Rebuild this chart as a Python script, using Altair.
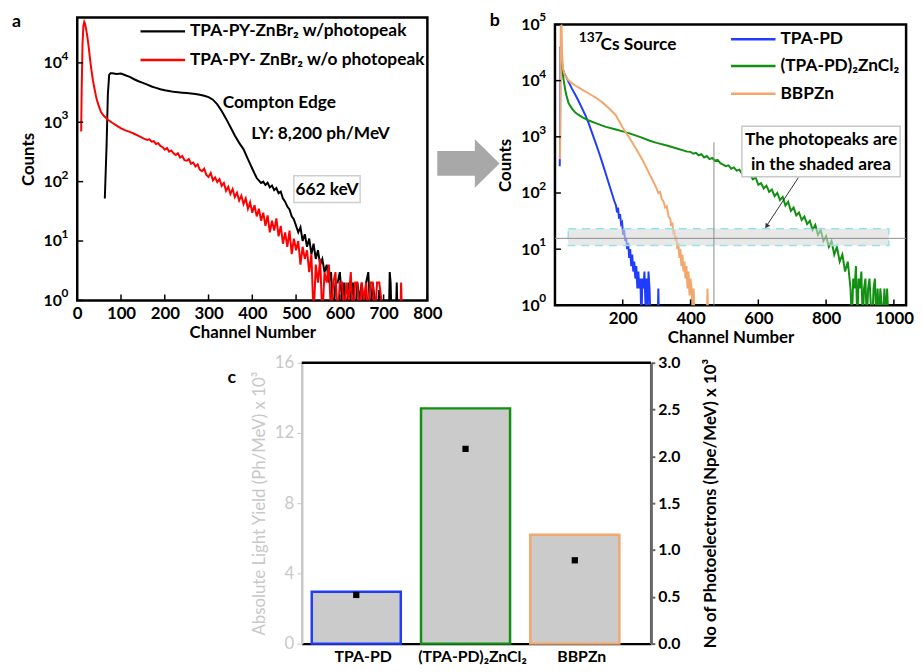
import altair as alt
import pandas as pd

FONT = "Lato"
TS = 17.5  # annotation text size

# ---------------- data ----------------
a_names = ["TPA-PY-ZnBr₂ w/photopeak", "TPA-PY- ZnBr₂ w/o photopeak"]
a_black = [(63, 52), (67, 400), (70, 3000), (73, 6300), (76, 6700), (80, 6700), (90, 6500), (100, 6600),
           (110, 6200), (120, 5800), (130, 5300), (140, 4900), (150, 4600), (160, 4300), (170, 4000),
           (180, 3800), (190, 3600), (200, 3450), (210, 3350), (220, 3250), (230, 3200), (240, 3150),
           (250, 3100), (260, 3050), (270, 3000), (280, 2900), (290, 2800), (300, 2650), (310, 2400),
           (320, 2000), (330, 1550), (340, 1150), (350, 830), (360, 600), (370, 450), (380, 350),
           (390, 240), (400, 165), (410, 115), (420, 95), (425, 100), (430, 88), (435, 96), (440, 80),
           (445, 86), (450, 72), (455, 78), (460, 64), (465, 68), (470, 52), (475, 46), (480, 38),
           (485, 34), (490, 26), (495, 23), (500, 18), (505, 14), (510, 17), (515, 10), (520, 13),
           (525, 8), (530, 11), (535, 6), (540, 9), (545, 5), (550, 7), (555, 4), (560, 5), (565, 3),
           (570, 4), (575, 2), (580, 3), (585, 0.5), (590, 2), (595, 2), (600, 3), (605, 1), (610, 2),
           (615, 0.5), (620, 2), (625, 1), (630, 2), (635, 0.5), (640, 2), (645, 1), (650, 2),
           (655, 0.5), (660, 2), (665, 3), (670, 0.5), (675, 2), (680, 1), (685, 0.5), (690, 1.5),
           (695, 0.5), (712, 0.5), (714, 3), (716, 2), (718, 0.5), (728, 0.5), (730, 2), (732, 0.5)]
a_red = [(9, 700), (10, 3000), (12, 20000), (14, 42000), (16, 49000), (18, 45000), (20, 38000),
         (23, 28000), (26, 19000), (29, 12000), (32, 8000), (36, 5000), (40, 3500), (44, 2500),
         (48, 2000), (54, 1500), (60, 1300), (70, 1100), (80, 980), (90, 880), (100, 790), (110, 730),
         (120, 690), (130, 640), (140, 590), (150, 540), (155, 520), (160, 505), (165, 515), (170, 470),
         (175, 480), (180, 430), (185, 445), (190, 400), (195, 380), (200, 345), (205, 370), (210, 320),
         (215, 335), (220, 300), (225, 280), (230, 300), (235, 255), (240, 270), (245, 230), (250, 225),
         (255, 240), (260, 200), (265, 210), (270, 180), (275, 195), (280, 160), (285, 150), (290, 165),
         (295, 130), (300, 120), (305, 140), (310, 105), (315, 118), (320, 98), (325, 110), (330, 85),
         (335, 95), (340, 70), (345, 82), (350, 62), (355, 75), (360, 55), (365, 65), (370, 48),
         (375, 58), (380, 42), (385, 52), (390, 35), (395, 45), (400, 30), (405, 40), (410, 26),
         (415, 35), (420, 22), (425, 30), (430, 18), (435, 27), (440, 14), (445, 22), (450, 15),
         (455, 24), (460, 12), (465, 18), (470, 9), (475, 14), (480, 8), (485, 15), (490, 6), (495, 11),
         (500, 7), (505, 10), (510, 4), (515, 8), (520, 5), (525, 7), (530, 3), (535, 6), (540, 0.5),
         (545, 4), (550, 2), (555, 5), (560, 0.5), (565, 3), (570, 2), (575, 4), (580, 0.5), (585, 2),
         (590, 3), (595, 0.5), (600, 2), (605, 2), (610, 0.5), (615, 2), (620, 1), (625, 3), (630, 0.5),
         (635, 2), (640, 2), (645, 0.5), (650, 2), (655, 1), (660, 2), (665, 0.5), (670, 2), (675, 2),
         (680, 0.5), (685, 2), (690, 2), (695, 1), (700, 0.5), (738, 0.5), (740, 2), (742, 0.5)]
a_xticks = [0, 100, 200, 300, 400, 500, 600, 700, 800]
a_yticks = [1, 10, 100, 1000, 10000]
a_exps = ["0", "1", "2", "3", "4"]

b_names = ["TPA-PD", "(TPA-PD)₂ZnCl₂", "BBPZn"]
b_blue = [(14, 300), (15, 650), (16, 40000), (18, 30000), (20, 22000), (23, 16000), (27, 13500),
          (32, 12000), (40, 9500), (50, 7200), (60, 5600), (70, 4300), (80, 3200), (90, 2400),
          (100, 1700), (110, 1150), (120, 780), (130, 520), (140, 340), (150, 220), (160, 140),
          (170, 90), (175, 72), (180, 60), (183, 45), (186, 55), (189, 35), (192, 42), (195, 28),
          (198, 30), (201, 18), (204, 22), (207, 14), (210, 16), (213, 10), (216, 13), (219, 7),
          (222, 10), (225, 5), (228, 8), (231, 4), (234, 6), (237, 3), (240, 5), (243, 2), (246, 4),
          (249, 2), (252, 3), (255, 0.5), (258, 3), (261, 2), (264, 4), (267, 1), (270, 3), (273, 0.5),
          (276, 4), (279, 2), (282, 0.5), (290, 0.5), (303, 0.5), (305, 2), (307, 0.5)]
b_green = [(16, 40000), (18, 35000), (20, 20000), (23, 13000), (27, 9000), (32, 6000), (40, 4000),
           (50, 3200), (60, 2700), (70, 2450), (80, 2250), (100, 1950), (120, 1750), (150, 1500),
           (180, 1350), (200, 1250), (220, 1150), (250, 1000), (280, 850), (300, 780), (330, 700),
           (360, 620), (390, 545), (400, 540), (408, 500), (416, 520), (424, 470), (432, 490), (440, 430),
           (448, 455), (456, 400), (464, 420), (472, 375), (480, 390), (488, 340), (496, 320), (504, 300),
           (512, 310), (520, 270), (528, 285), (536, 250), (544, 260), (552, 220), (560, 235), (568, 200),
           (576, 210), (584, 175), (592, 190), (600, 140), (608, 150), (616, 120), (624, 135), (632, 105),
           (640, 115), (648, 88), (656, 100), (664, 75), (672, 85), (680, 60), (688, 70), (696, 48),
           (704, 55), (712, 40), (720, 45), (728, 33), (736, 38), (744, 28), (752, 32), (760, 22),
           (768, 27), (776, 18), (784, 22), (792, 14), (800, 17), (808, 11), (816, 14), (824, 8),
           (832, 11), (840, 6), (848, 8), (856, 4), (864, 6), (872, 2), (876, 0.5), (880, 3), (884, 2),
           (888, 5), (892, 0.5), (896, 3), (900, 2), (904, 4), (908, 0.5), (912, 2), (916, 3), (920, 0.5),
           (924, 2), (928, 3), (932, 1), (936, 0.5), (940, 2), (944, 3), (948, 0.5), (952, 2), (956, 0.5),
           (960, 2), (964, 1), (968, 0.5), (972, 2), (976, 0.5), (980, 2), (984, 0.5)]
b_orange = [(15, 400), (16, 3000), (17, 200000), (19, 120000), (21, 30000), (24, 16000), (28, 13000),
            (35, 11000), (45, 9500), (60, 8200), (80, 6900), (100, 5900), (120, 5000), (140, 4100),
            (160, 3200), (180, 2400), (200, 1450), (220, 950), (240, 600), (260, 370), (280, 210),
            (290, 160), (300, 120), (305, 100), (310, 105), (315, 78), (320, 72), (325, 55), (330, 58),
            (335, 38), (340, 35), (343, 26), (346, 30), (349, 20), (352, 22), (355, 14), (358, 17),
            (361, 10), (364, 13), (367, 7), (370, 10), (373, 5), (376, 8), (379, 4), (382, 6), (385, 3),
            (388, 5), (391, 2), (394, 4), (397, 1.5), (400, 3), (403, 2), (406, 0.5), (409, 2), (412, 0.5),
            (448, 0.5), (450, 2), (452, 0.5)]
b_xticks = [200, 400, 600, 800, 1000]
b_yticks = [1, 10, 100, 1000, 10000, 100000]
b_exps = ["0", "1", "2", "3", "4", "5"]
b_band = {"ch": [39], "ch2": [985], "counts": [11.6], "counts2": [23]}
b_hline = {"counts": [15.6]}
b_vline = {"ch": [469], "counts": [1], "counts2": [800]}

c_cats = ["TPA-PD", "(TPA-PD)₂ZnCl₂", "BBPZn"]
c_ly = [2.95, 13.4, 6.2]
c_npe = [0.52, 2.08, 0.89]
c_colors = ["#1f3cff", "#119011", "#f2a76c"]
c_left_ticks = [0, 4, 8, 12, 16]
c_right_ticks = [0, 0.5, 1.0, 1.5, 2.0, 2.5, 3.0]

# ---------------- helpers ----------------
one = pd.DataFrame({"k": [0]})


def spec_df(pairs):
    return pd.DataFrame(pairs, columns=["ch", "counts"])


def txt(s, x, y, size=TS, bold=True, align="left", color="black"):
    return alt.Chart(one).mark_text(
        text=s, align=align, baseline="middle", fontSize=size, font=FONT,
        fontWeight="bold" if bold else "normal", color=color
    ).encode(x=alt.value(x), y=alt.value(y))


def hrule(x, x2, y, color, width):
    return alt.Chart(one).mark_rule(color=color, strokeWidth=width).encode(
        x=alt.value(x), x2=alt.value(x2), y=alt.value(y))


def box(x, x2, y, y2, stroke, width=1.5):
    return alt.Chart(one).mark_rect(fill="white", stroke=stroke, strokeWidth=width).encode(
        x=alt.value(x), x2=alt.value(x2), y=alt.value(y), y2=alt.value(y2))


def spacer():
    return alt.Chart(one).mark_point(opacity=0).encode(
        x=alt.value(0), y=alt.value(0)).properties(width=1, height=1, view=alt.ViewBackground(stroke=None))


def spectrum_panel(series, xdom, ydom, xticks, yticks, exps, W, H):
    sx = alt.Scale(domain=xdom, nice=False, zero=False)
    sy = alt.Scale(type="log", domain=ydom, nice=False)
    x_axis = alt.Axis(values=xticks, format="d", title="Channel Number", labelFontSize=17,
                      labelFontWeight="bold", labelColor="black", labelPadding=5, ticks=False,
                      tickSize=0, domain=False, labelFlush=False, labelOverlap=False, titleFontSize=17,
                      titleFontWeight="bold", titleColor="black", titlePadding=4)
    y_axis = alt.Axis(values=yticks, labelExpr="'10'", title="Counts", labelFontSize=16,
                      labelFontWeight="bold", labelColor="black", labelPadding=16, ticks=False,
                      tickSize=0, domain=False, labelOverlap=False, titleFontSize=17,
                      titleFontWeight="bold", titleColor="black", titlePadding=6)
    layers = []
    for i, (pairs, color) in enumerate(series):
        if i == 0:
            enc_x = alt.X("ch:Q", scale=sx, axis=x_axis)
            enc_y = alt.Y("counts:Q", scale=sy, axis=y_axis)
        else:
            enc_x = alt.X("ch:Q", scale=sx)
            enc_y = alt.Y("counts:Q", scale=sy)
        layers.append(alt.Chart(spec_df(pairs)).mark_line(color=color, strokeWidth=2, clip=True)
                      .encode(x=enc_x, y=enc_y))
    # inward ticks
    layers.append(alt.Chart(pd.DataFrame({"ch": xticks})).mark_rule(color="black", strokeWidth=1.5)
                  .encode(x=alt.X("ch:Q", scale=sx), y=alt.value(H), y2=alt.value(H - 6)))
    layers.append(alt.Chart(pd.DataFrame({"counts": yticks})).mark_rule(color="black", strokeWidth=1.5)
                  .encode(y=alt.Y("counts:Q", scale=sy), x=alt.value(0), x2=alt.value(6)))
    # exponents of the 10^n labels
    layers.append(alt.Chart(pd.DataFrame({"counts": yticks, "e": exps})).mark_text(
        align="left", baseline="middle", fontSize=12, fontWeight="bold", font=FONT, dy=-7, color="black")
        .encode(y=alt.Y("counts:Q", scale=sy), x=alt.value(-16), text="e:N"))
    return layers, sx, sy


# ---------------- panel a ----------------
Wa, Ha = 354, 286
la, sxa, sya = spectrum_panel([(a_black, "black"), (a_red, "#ff0000")], [0, 800], [1, 58000],
                              a_xticks, a_yticks, a_exps, Wa, Ha)
arrow_path = "M-1,-0.397L0.206,-0.397L0.206,-0.778L1,0L0.206,0.778L0.206,0.397L-1,0.397Z"
la += [
    hrule(64, 109, 14, "black", 2.5), txt(a_names[0], 114, 14),
    hrule(64, 109, 43, "#ff0000", 2.5), txt(a_names[1], 114, 43),
    txt("Compton Edge", 147, 86),
    txt("LY: 8,200 ph/MeV", 176, 118),
    box(219, 286, 160, 187, "#cfcfcf"),
    txt("662 keV", 252.5, 174, align="center"),
    txt("a", -66, 5, size=18),
    alt.Chart(one).mark_point(shape=arrow_path, size=3969, filled=True, fill="#a8a8a8", opacity=1,
                              strokeOpacity=0).encode(x=alt.value(395.5), y=alt.value(147.5)),
]
panel_a = alt.layer(*la).properties(width=Wa, height=Ha,
                                    view=alt.ViewBackground(stroke="black", strokeWidth=2.5))

# ---------------- panel b ----------------
Wb, Hb = 355, 284
lb, sxb, syb = spectrum_panel([(b_blue, "#1f3cff"), (b_green, "#119011"), (b_orange, "#f2a76c")],
                              [0, 1036], [1, 100000], b_xticks, b_yticks, b_exps, Wb, Hb)
lb += [
    alt.Chart(pd.DataFrame(b_band)).mark_rect(fill="#d9d9d9", fillOpacity=0.6, stroke="#93e4ea",
                                              strokeWidth=1.5, strokeDash=[8, 6]).encode(
        x=alt.X("ch:Q", scale=sxb), x2="ch2:Q",
        y=alt.Y("counts:Q", scale=syb), y2="counts2:Q"),
    alt.Chart(pd.DataFrame(b_hline)).mark_rule(color="#8c8c8c", strokeWidth=1).encode(
        y=alt.Y("counts:Q", scale=syb), x=alt.value(0), x2=alt.value(Wb)),
    alt.Chart(pd.DataFrame(b_vline)).mark_rule(color="#8c8c8c", strokeWidth=1).encode(
        x=alt.X("ch:Q", scale=sxb), y=alt.Y("counts:Q", scale=syb), y2="counts2:Q"),
    box(189, 349, 103, 154, "#c8c8c8"),
    txt("The photopeaks are", 269, 117, align="center"),
    txt("in the shaded area", 269, 142, align="center"),
    alt.Chart(one).mark_rule(color="#333333", strokeWidth=1).encode(
        x=alt.value(246), y=alt.value(155), x2=alt.value(213), y2=alt.value(205)),
    alt.Chart(one).mark_point(shape="triangle-up", size=30, filled=True, color="#333333", opacity=1,
                              angle=213).encode(x=alt.value(214), y=alt.value(204)),
    hrule(178, 223, 15, "#1f3cff", 2.5), txt(b_names[0], 228, 15),
    hrule(178, 223, 42, "#119011", 2.5), txt(b_names[1], 228, 42),
    hrule(178, 223, 70, "#f2a76c", 2.5), txt(b_names[2], 228, 70),
    txt("137", 24, 14, size=14),
    txt("Cs Source", 46, 21),
    txt("b", -66, -3, size=18),
]
panel_b = alt.layer(*lb).properties(width=Wb, height=Hb,
                                    view=alt.ViewBackground(stroke="black", strokeWidth=2.5))

# ---------------- panel c ----------------
Wc, Hc = 353, 284
dfc = pd.DataFrame({"cat": c_cats, "ly": c_ly, "npe": c_npe})
sxc = alt.Scale(domain=c_cats, paddingInner=0.185, paddingOuter=0.19, align=0.24)
xc = alt.X("cat:N", sort=c_cats, scale=sxc,
           axis=alt.Axis(title=None, labelAngle=0, labelFontSize=16, labelFontWeight="bold",
                         labelColor="black", labelPadding=5, labelOffset=7, ticks=False, tickSize=0,
                         domainColor="black", domainWidth=2.5))
bars = alt.Chart(dfc).mark_bar(fill="#cbcbcb", strokeWidth=2.5).encode(
    x=xc,
    y=alt.Y("ly:Q", scale=alt.Scale(domain=[0, 16], nice=False),
            axis=alt.Axis(values=c_left_ticks, orient="left",
                          title="Absolute Light Yield (Ph/MeV) x 10³", labelFontSize=17,
                          labelColor="#c8c8c8", labelPadding=3, tickColor="#c8c8c8", tickSize=5,
                          domainColor="#c8c8c8", domainWidth=2.5, titleColor="#c8c8c8",
                          titleFontSize=17, titleFontWeight="normal", titlePadding=6)),
    stroke=alt.Stroke("cat:N", scale=alt.Scale(domain=c_cats, range=c_colors), legend=None),
)
pts = alt.Chart(dfc).mark_square(size=40, color="black", opacity=1).encode(
    x=alt.X("cat:N", sort=c_cats, scale=sxc),
    y=alt.Y("npe:Q", scale=alt.Scale(domain=[0, 3], nice=False),
            axis=alt.Axis(values=c_right_ticks, orient="right", format=".1f",
                          title="No of  Photoelectrons (Npe/MeV) x 10³", labelFontSize=16,
                          labelFontWeight="bold", labelColor="black", labelPadding=3,
                          tickColor="#666666", tickSize=4, tickWidth=2, domainColor="#666666",
                          domainWidth=3, titleColor="black", titleFontSize=17, titleFontWeight="bold",
                          titleAngle=270, titlePadding=40)),
)
panel_c = alt.layer(
    bars, pts, hrule(0, Wc, 0, "black", 2.5), txt("c", -75, 16, size=18)
).resolve_scale(y="independent").properties(width=Wc, height=Hc, view=alt.ViewBackground(stroke=None))

# ---------------- layout ----------------
col_b = alt.vconcat(spacer(), panel_b, spacing=6, bounds="flush")
row1 = alt.hconcat(panel_a, col_b, spacing=129, bounds="flush")
row2 = alt.hconcat(spacer(), panel_c, spacing=226, bounds="flush")
chart = alt.vconcat(row1, row2, spacing=6).properties(
    padding={"left": 2, "top": -2, "right": 0, "bottom": 0}
).configure_axis(grid=False, labelFont=FONT, titleFont=FONT).configure_view(stroke=None)

chart.save("out.html", embed_options={"renderer": "svg", "actions": False})
